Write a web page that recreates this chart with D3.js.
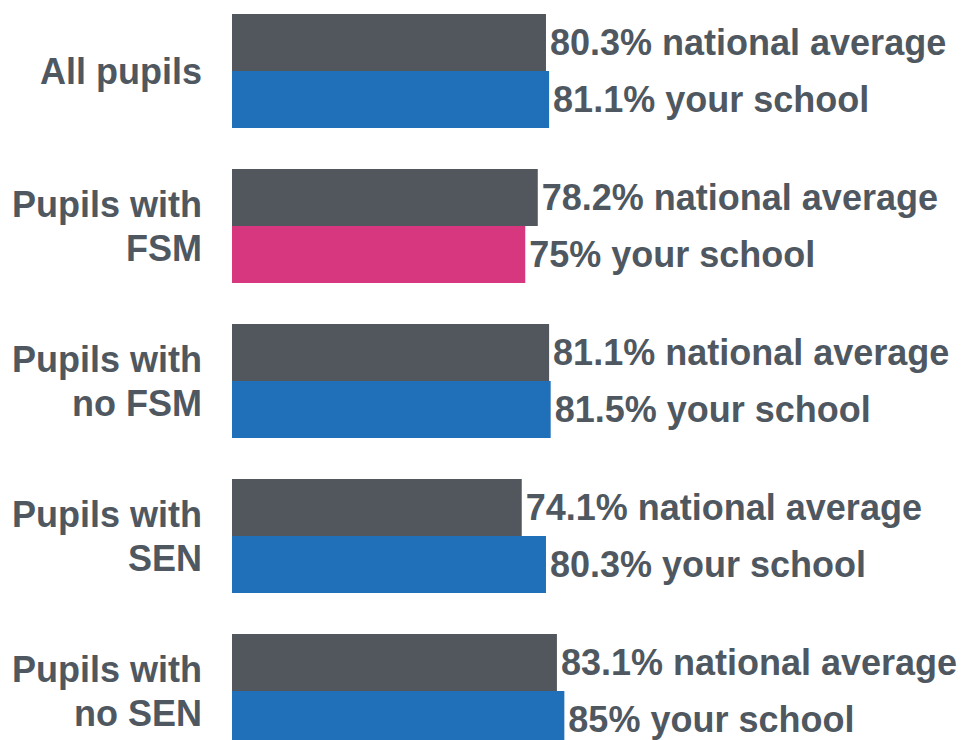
<!DOCTYPE html>
<html><head><meta charset="utf-8">
<script src="https://cdn.jsdelivr.net/npm/d3@7"></script>
<style>body{margin:0;background:#fff;} text{font-family:"Liberation Sans",Arial,sans-serif;font-weight:bold;}</style>
</head><body><svg id="c" width="968" height="740"></svg>
<script>
const categories = [["All pupils"],["Pupils with","FSM"],["Pupils with","no FSM"],["Pupils with","SEN"],["Pupils with","no SEN"]];
const nationalValues = [80.3, 78.2, 81.1, 74.1, 83.1];
const schoolValues = [81.1, 75, 81.5, 80.3, 85];
const schoolLabels = ["81.1%","75%","81.5%","80.3%","85%"];
const nationalLabels = ["80.3%","78.2%","81.1%","74.1%","83.1%"];
const schoolBelow = [false, true, false, false, false];

const svg = d3.select("#c");
const textColor = "#4f5860", grey = "#51575d", blue = "#1f6fb9", pink = "#d6377f";
const x = d3.scaleLinear().domain([0,100]).range([232, 623]);
const y = d3.scaleBand().domain(d3.range(5)).range([14, 748]).paddingInner(41/155).paddingOuter(0);
const sub = d3.scaleBand().domain(["national","school"]).range([0, y.bandwidth()]);
const fs = 36;

const g = svg.selectAll("g.grp").data(d3.range(5)).join("g").attr("class","grp")
  .attr("transform", i => `translate(0,${y(i)})`);

g.append("rect").attr("x", x(0)).attr("y", sub("national"))
  .attr("width", i => x(nationalValues[i]) - x(0)).attr("height", sub.bandwidth()).attr("fill", grey);
g.append("rect").attr("x", x(0)).attr("y", sub("school"))
  .attr("width", i => x(schoolValues[i]) - x(0)).attr("height", sub.bandwidth())
  .attr("fill", i => schoolBelow[i] ? pink : blue);

g.append("text").attr("x", i => x(nationalValues[i]) + 4).attr("y", sub("national") + sub.bandwidth()/2)
  .attr("dy","0.35em").attr("font-size", fs).attr("fill", textColor)
  .text(i => nationalLabels[i] + " national average");
g.append("text").attr("x", i => x(schoolValues[i]) + 4).attr("y", sub("school") + sub.bandwidth()/2)
  .attr("dy","0.35em").attr("font-size", fs).attr("fill", textColor)
  .text(i => schoolLabels[i] + " your school");

g.each(function(i){
  const lines = categories[i];
  const t = d3.select(this).append("text").attr("text-anchor","end").attr("font-size", fs).attr("fill", textColor);
  const lh = 44;
  const y0 = y.bandwidth()/2 - (lines.length-1)*lh/2;
  lines.forEach((l, k) => t.append("tspan").attr("x", 202).attr("y", y0 + k*lh).attr("dy","0.35em").text(l));
});
</script></body></html>
